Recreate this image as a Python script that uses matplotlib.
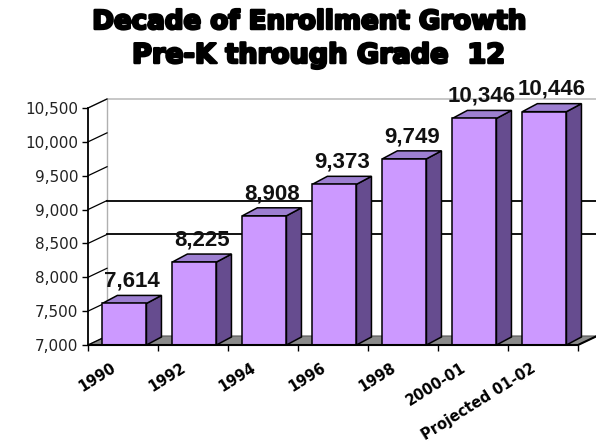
import matplotlib
matplotlib.use('Agg')
import numpy as np
import matplotlib.pyplot as plt
from matplotlib.patches import Polygon
import matplotlib.patheffects as pe
from matplotlib.transforms import ScaledTranslation

categories = ['1990', '1992', '1994', '1996', '1998', '2000-01', 'Projected 01-02']
enrollment = [7614, 8225, 8908, 9373, 9749, 10346, 10446]
value_labels = ['7,614', '8,225', '8,908', '9,373', '9,749', '10,346', '10,446']
y_ticks = [7000, 7500, 8000, 8500, 9000, 9500, 10000, 10500]
y_tick_labels = ['7,000', '7,500', '8,000', '8,500', '9,000', '9,500', '10,000', '10,500']
back_gridlines = [8500, 9000]
title_lines = ['Decade of Enrollment Growth', 'Pre-K through Grade  12']

W, H = 596, 445
fig = plt.figure(figsize=(W / 100, H / 100), dpi=100)
ax_l, ax_b, ax_w, ax_h = 88, 100, 490, 237
ax = fig.add_axes([ax_l / W, ax_b / H, ax_w / W, ax_h / H])
n = len(categories)
ymin, ymax = y_ticks[0], y_ticks[-1]
ax.set_xlim(0, n)
ax.set_ylim(ymin, ymax)


def off(px_dx, px_dy):
    return px_dx * n / ax_w, px_dy * (ymax - ymin) / ax_h


bdx, bdy = off(15, 8)     # bar depth
wdx, wdy = off(19, 9)     # wall depth

# floor
floor = Polygon([(0, ymin), (n, ymin), (n + wdx, ymin + wdy), (wdx, ymin + wdy)],
                closed=True, facecolor='#8a8a8a', edgecolor='#555555', lw=0.8,
                zorder=1, clip_on=False)
ax.add_patch(floor)
ax.plot([0, n, n + wdx], [ymin, ymin, ymin + wdy], color='black', lw=1.5,
        zorder=6, clip_on=False, solid_capstyle='butt')

# walls
ax.plot([0, wdx, n + wdx], [ymax, ymax + wdy, ymax + wdy], color='#b0b0b0', lw=1,
        zorder=1, clip_on=False)
ax.plot([wdx, wdx], [ymin + wdy, ymax + wdy], color='#b0b0b0', lw=1, zorder=1, clip_on=False)
for v in y_ticks:
    ax.plot([0, wdx], [v, v + wdy], color='black', lw=0.9, zorder=2, clip_on=False)
for v in back_gridlines:
    ax.plot([wdx, n + wdx], [v + wdy, v + wdy], color='black', lw=1.3, zorder=2, clip_on=False)

# bars
centers = np.arange(n) + 0.52
bw = 0.63
front = '#cc99ff'
side = '#664c8f'
topc = '#9d7fd1'
ax.bar(centers, [v - ymin for v in enrollment], bottom=ymin, width=bw,
       color=front, edgecolor='black', lw=1.1, zorder=4)
for c, v in zip(centers, enrollment):
    r = c + bw / 2
    l = c - bw / 2
    ax.add_patch(Polygon([(r, ymin), (r + bdx, ymin + bdy), (r + bdx, v + bdy), (r, v)],
                         closed=True, facecolor=side, edgecolor='black', lw=1.1,
                         zorder=3, clip_on=False))
    ax.add_patch(Polygon([(l, v), (r, v), (r + bdx, v + bdy), (l + bdx, v + bdy)],
                         closed=True, facecolor=topc, edgecolor='black', lw=1.1,
                         zorder=3, clip_on=False))

for c, v, s in zip(centers, enrollment, value_labels):
    ax.annotate(s, (c + bdx / 2, v), xytext=(0, 16), textcoords='offset points',
                ha='center', va='center', fontsize=16, fontweight='bold',
                family='Liberation Sans', color='#111111', zorder=7,
                annotation_clip=False)

# axes styling
for sp in ['top', 'right', 'bottom']:
    ax.spines[sp].set_visible(False)
ax.spines['left'].set_linewidth(1.3)
ax.set_yticks(y_ticks)
ax.set_yticklabels(y_tick_labels, fontsize=11, color='#222222')
ax.tick_params(axis='y', direction='out', length=4, width=1, pad=3)

ax.set_xticks(np.arange(n + 1))
ax.set_xticklabels([''] * (n + 1))
ax.tick_params(axis='x', which='major', direction='out', length=4, width=1)
ax.set_xticks(centers, minor=True)
ax.set_xticklabels(categories, minor=True, rotation=32, ha='right',
                   rotation_mode='anchor', fontsize=10.5, fontweight='bold')
ax.tick_params(axis='x', which='minor', length=0, pad=11)
for lab in ax.get_xticklabels(minor=True):
    lab.set_transform(lab.get_transform() + ScaledTranslation(-10 / 72, 0, fig.dpi_scale_trans))

ax.set_facecolor('none')

# title
stroke = [pe.withStroke(linewidth=1.8, foreground='black')]
fig.text(0.52, 1 - 22 / H, title_lines[0], ha='center', va='center', fontsize=18.8,
         fontweight='bold', path_effects=stroke)
fig.text(0.535, 1 - 56 / H, title_lines[1], ha='center', va='center', fontsize=19.5,
         fontweight='bold', path_effects=stroke)

fig.savefig('out.png', dpi=100)
